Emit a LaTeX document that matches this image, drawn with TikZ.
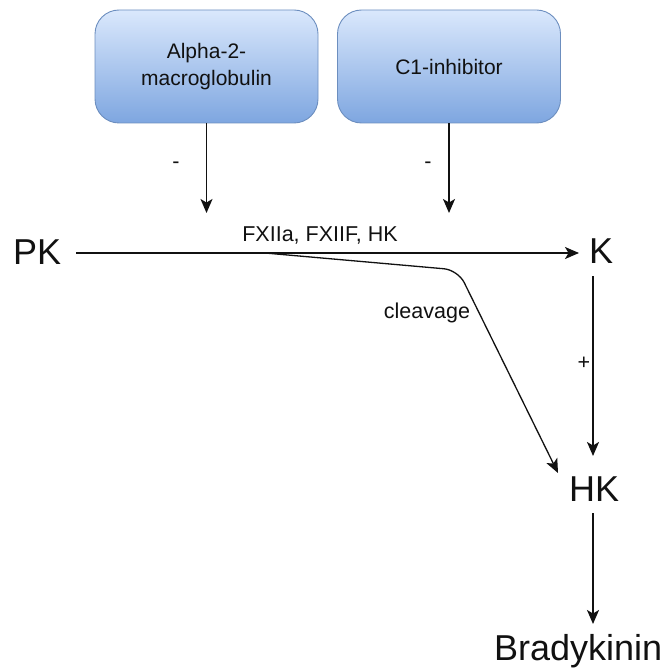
\documentclass[tikz,border=0pt]{standalone}
\usepackage{fontspec}
\setmainfont{Liberation Sans}
\usetikzlibrary{arrows.meta}
\definecolor{boxtop}{HTML}{DAE8FC}
\definecolor{boxbot}{HTML}{7EA6E0}
\definecolor{boxline}{HTML}{6C8EBF}
\definecolor{ink}{HTML}{111111}
\tikzset{
  inhibbox/.style={draw=boxline, line width=0.9pt, rounded corners=24pt,
    top color=boxtop, bottom color=boxbot, minimum width=223pt, minimum height=113pt,
    inner sep=0pt, align=center, text=ink,
    font=\fontsize{21}{27}\selectfont},
  bigtxt/.style={inner sep=0pt, text=ink, font=\fontsize{36}{40}\selectfont},
  smalltxt/.style={inner sep=0pt, text=ink, font=\fontsize{21.5}{26}\selectfont},
  conn/.style={draw=ink, line width=1.6pt, -{Stealth[length=14pt,width=12pt,inset=3.5pt]}}
}
\begin{document}
\begin{tikzpicture}[x=1pt,y=-1pt]
\useasboundingbox (0,0) rectangle (671,671);
\node[inhibbox] (A2M) at (206.5,66.5) {Alpha-2-\\macroglobulin};
\node[inhibbox] (C1) at (449,66.5) {C1-inhibitor};
\node[bigtxt, anchor=base west] (PK) at (13,264) {PK};
\node[bigtxt, anchor=base west] (K) at (589,263) {K};
\node[bigtxt, anchor=base west] (HK) at (569,501) {HK};
\node[bigtxt, anchor=base west] (BK) at (494,660) {Bradykinin};
\coordinate (A2Mend) at (206.5,213);
\coordinate (C1end) at (449,213);
\coordinate (PKout) at (76,253);
\coordinate (Kin) at (579,253);
\coordinate (Kout) at (593,276);
\coordinate (HKin) at (593,456);
\coordinate (HKout) at (593,513);
\coordinate (BKin) at (593,624);
\coordinate (cstart) at (265,253);
\coordinate (cbend) at (458,270);
\coordinate (cend) at (558,473);
\draw[conn] (A2M.south) -- (A2Mend);
\draw[conn] (C1.south) -- (C1end);
\draw[conn] (PKout) -- (Kin);
\draw[conn] (Kout) -- (HKin);
\draw[conn] (HKout) -- (BKin);
\draw[conn, line width=1.3pt, rounded corners=14pt] (cstart) -- (cbend) -- (cend);
\node[smalltxt] (lminus1) at (176,165) {-};
\node[smalltxt] (lminus2) at (428,165) {-};
\node[smalltxt] (lplus) at (584,363) {+};
\node[smalltxt] (lfx) at (320,235) {FXIIa, FXIIF, HK};
\node[smalltxt, anchor=base] (lcl) at (427,318) {cleavage};
\end{tikzpicture}
\end{document}
